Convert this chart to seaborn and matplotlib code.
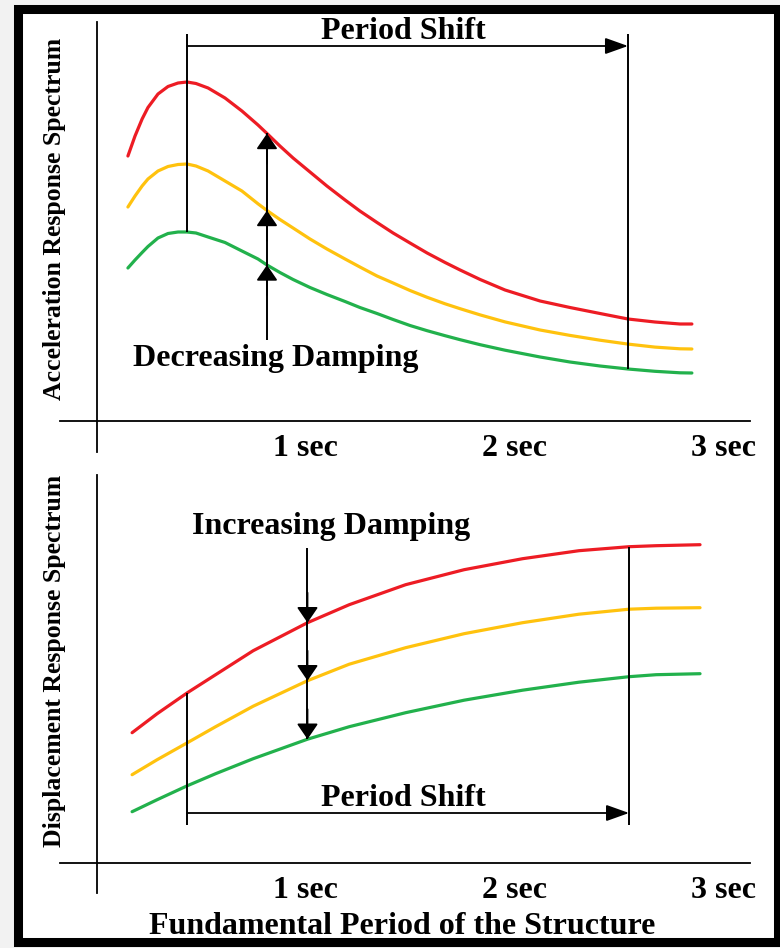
import matplotlib
matplotlib.use('Agg')
import matplotlib.pyplot as plt
from matplotlib.patches import Rectangle
import seaborn as sns

# top panel: acceleration response spectra (period in sec, arbitrary amplitude)
acc_period = [0.150, 0.184, 0.218, 0.246, 0.294, 0.342, 0.390, 0.433, 0.476,
              0.534, 0.615, 0.696, 0.773, 0.816, 0.878, 0.941, 1.022, 1.103,
              1.190, 1.261, 1.343, 1.420, 1.501, 1.583, 1.669, 1.741, 1.837,
              1.956, 2.124, 2.267, 2.411, 2.545, 2.674, 2.794, 2.851]
acc_red = [2.65, 2.85, 3.02, 3.135, 3.27, 3.345, 3.38, 3.39, 3.375,
           3.33, 3.23, 3.10, 2.96, 2.875, 2.75, 2.63, 2.49, 2.35,
           2.21, 2.10, 1.985, 1.88, 1.78, 1.68, 1.585, 1.51, 1.415,
           1.31, 1.20, 1.135, 1.075, 1.02, 0.99, 0.97, 0.97]
acc_yellow = [2.14, 2.25, 2.35, 2.42, 2.50, 2.545, 2.565, 2.57, 2.55,
              2.50, 2.40, 2.30, 2.172, 2.105, 2.015, 1.93, 1.82, 1.72,
              1.62, 1.54, 1.45, 1.38, 1.305, 1.237, 1.172, 1.123, 1.061,
              0.991, 0.91, 0.856, 0.808, 0.769, 0.739, 0.722, 0.72]
acc_green = [1.53, 1.61, 1.685, 1.745, 1.83, 1.875, 1.89, 1.89, 1.88,
             1.84, 1.785, 1.70, 1.62, 1.56, 1.485, 1.415, 1.335, 1.265,
             1.195, 1.135, 1.075, 1.015, 0.955, 0.903, 0.853, 0.813, 0.763,
             0.708, 0.64, 0.59, 0.55, 0.52, 0.497, 0.482, 0.48]

# bottom panel: displacement response spectra
disp_period = [0.17, 0.29, 0.435, 0.57, 0.75, 1.01, 1.21, 1.48, 1.76, 2.04,
               2.31, 2.55, 2.68, 2.89]
disp_red = [1.30, 1.49, 1.70, 1.88, 2.12, 2.40, 2.58, 2.78, 2.93, 3.04,
            3.12, 3.16, 3.17, 3.18]
disp_yellow = [0.88, 1.03, 1.20, 1.36, 1.565, 1.82, 1.985, 2.15, 2.29, 2.40,
               2.485, 2.535, 2.545, 2.55]
disp_green = [0.51, 0.63, 0.77, 0.89, 1.04, 1.235, 1.36, 1.50, 1.625, 1.725,
              1.805, 1.86, 1.88, 1.89]

tick_secs = [1, 2, 3]
tick_labels = ['1 sec', '2 sec', '3 sec']

RED, YELLOW, GREEN = '#ed1c24', '#ffc20e', '#22b14c'

sns.set_style('white')
plt.rcParams['font.family'] = ['Liberation Serif', 'DejaVu Serif']
plt.rcParams['font.weight'] = 'bold'
plt.rcParams['axes.labelweight'] = 'bold'
plt.rcParams['text.color'] = 'black'
plt.rcParams['axes.labelcolor'] = 'black'

W, H = 780, 948
T0, SPS, UNIT = 96.6, 208.8, 100.0  # pixel of t=0, pixels per second, pixels per unit
FS = 23

fig = plt.figure(figsize=(W / 100, H / 100), dpi=100)
fig.patch.set_facecolor('#f2f2f2')
fig.patches.append(Rectangle((17.5 / W, 1 - 942 / H), (778 - 17.5) / W, (942 - 9) / H,
                             transform=fig.transFigure, facecolor='white',
                             edgecolor='black', lw=6.5, zorder=-5))


def make_axes(top_px, bottom_px, zero_px, yspan_px, ylabel, label_px):
    ax = fig.add_axes([20 / W, 1 - bottom_px / H, 750 / W, (bottom_px - top_px) / H])
    ax.set_facecolor('none')
    ax.set_xlim((20 - T0) / SPS, (770 - T0) / SPS)
    ax.set_ylim((zero_px - bottom_px) / UNIT, (zero_px - top_px) / UNIT)
    for side in ['top', 'right']:
        ax.spines[side].set_visible(False)
    ax.spines['left'].set_position(('data', 0))
    ax.spines['bottom'].set_position(('data', 0))
    ax.spines['bottom'].set_bounds((60 - T0) / SPS, (750 - T0) / SPS)
    ax.spines['left'].set_bounds((zero_px - yspan_px[1]) / UNIT, (zero_px - yspan_px[0]) / UNIT)
    for side in ['left', 'bottom']:
        ax.spines[side].set_color('black')
        ax.spines[side].set_linewidth(1.3)
    ax.set_xticks(tick_secs, labels=tick_labels)
    ax.set_yticks([])
    ax.tick_params(axis='x', direction='inout', length=17, width=1.3, pad=1.0,
                   labelsize=FS, colors='black')
    ax.set_ylabel(ylabel, fontsize=18.5, va='center')
    ax.yaxis.set_label_coords((55 - 20) / 750, (bottom_px - label_px) / (bottom_px - top_px))
    ax.set_xlabel('')
    return ax


def curves(ax, x, red, yellow, green):
    for vals, col in [(green, GREEN), (yellow, YELLOW), (red, RED)]:
        sns.lineplot(x=x, y=vals, color=col, lw=2.3, ax=ax, sort=False)


def head(ax, x, tip, direction):
    ax.annotate('', xy=(x, tip), xytext=(x, tip - 0.3 * direction),
                arrowprops=dict(arrowstyle='-|>,head_length=0.95,head_width=0.65',
                                mutation_scale=10, color='black', lw=1.3,
                                shrinkA=0, shrinkB=0))


def shift_arrow(ax, x0, x1, y):
    ax.annotate('', xy=(x1, y), xytext=(x0, y),
                arrowprops=dict(arrowstyle='-|>,head_length=1.4,head_width=0.5',
                                mutation_scale=10, color='black', lw=1.3,
                                shrinkA=0, shrinkB=0))


line_kw = dict(colors='black', lw=1.4)

# ---- top panel ----
ax1 = make_axes(15, 462, 421, (22, 452), 'Acceleration Response Spectrum', 219)
curves(ax1, acc_period, acc_red, acc_yellow, acc_green)

ipk, ishift, iarr = 7, 31, 13
top_y = (421 - 34) / UNIT
ax1.vlines(acc_period[ipk], acc_green[ipk], top_y, **line_kw)
ax1.vlines(acc_period[ishift], acc_green[ishift], top_y, **line_kw)
shift_arrow(ax1, acc_period[ipk], acc_period[ishift], (421 - 46) / UNIT)
ax1.text((403 - T0) / SPS, (421 - 39) / UNIT, 'Period Shift', fontsize=FS,
         ha='center', va='baseline')

ax1.vlines(acc_period[iarr], (421 - 340) / UNIT, acc_red[iarr], **line_kw)
for vals in [acc_red, acc_yellow, acc_green]:
    head(ax1, acc_period[iarr], vals[iarr], 1)
ax1.text((275.5 - T0) / SPS, (421 - 366) / UNIT, 'Decreasing Damping', fontsize=FS,
         ha='center', va='baseline')

# ---- bottom panel ----
Z2 = 862.7
ax2 = make_axes(466, 905, Z2, (475, 893), 'Displacement Response Spectrum', 661)
curves(ax2, disp_period, disp_red, disp_yellow, disp_green)

jl, jr, jarr = 2, 11, 5
low_y = (Z2 - 825) / UNIT
ax2.vlines(disp_period[jl], low_y, disp_red[jl], **line_kw)
ax2.vlines(disp_period[jr], low_y, disp_red[jr], **line_kw)
shift_arrow(ax2, disp_period[jl], disp_period[jr], (Z2 - 813) / UNIT)
ax2.text((403 - T0) / SPS, (Z2 - 806) / UNIT, 'Period Shift', fontsize=FS,
         ha='center', va='baseline')

ax2.vlines(disp_period[jarr], disp_green[jarr], (Z2 - 548) / UNIT, **line_kw)
for vals in [disp_red, disp_yellow, disp_green]:
    head(ax2, disp_period[jarr], vals[jarr], -1)
ax2.text((331 - T0) / SPS, (Z2 - 534) / UNIT, 'Increasing Damping', fontsize=FS,
         ha='center', va='baseline')

ax2.set_xlabel('Fundamental Period of the Structure', fontsize=FS, va='center')
ax2.xaxis.set_label_coords((402 - 20) / 750, (905 - 926) / (905 - 466))

fig.savefig('out.png', dpi=100, facecolor=fig.get_facecolor())
